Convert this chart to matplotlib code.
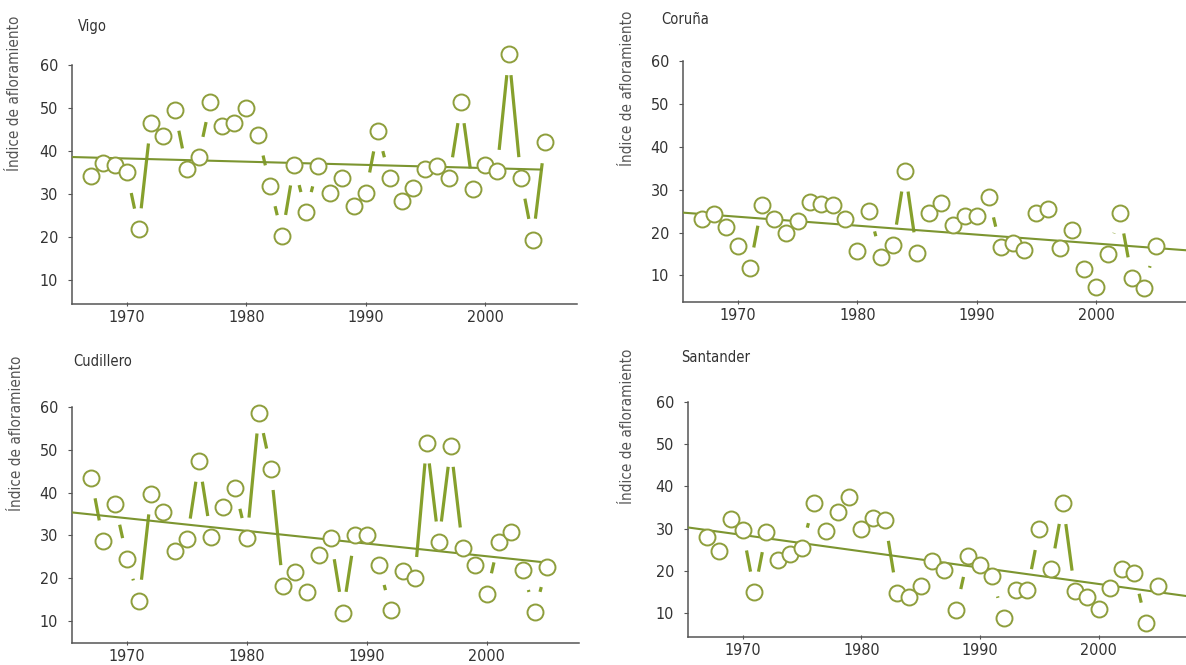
import numpy as np
import matplotlib
matplotlib.use("Agg")
import matplotlib.pyplot as plt
from matplotlib import font_manager

# annual upwelling index per station, 1967-2005
years = list(range(1967, 2006))

vigo = [34.2, 37.3, 36.8, 35.0, 21.8, 46.6, 43.5, 49.5, 35.8, 38.5,
        51.5, 45.8, 46.6, 49.9, 43.7, 31.9, 20.3, 36.8, 25.7, 36.5,
        30.2, 33.7, 27.3, 30.2, 44.7, 33.8, 28.3, 31.3, 35.8, 36.5,
        33.7, 51.3, 31.1, 36.8, 35.4, 62.5, 33.7, 19.4, 42.0]

coruna = [23.2, 24.4, 21.3, 16.9, 11.7, 26.4, 23.2, 20.0, 22.7, 27.1,
          26.6, 26.4, 23.2, 15.8, 25.0, 14.4, 17.0, 34.4, 15.2, 24.6,
          27.0, 21.7, 23.8, 23.9, 28.3, 16.6, 17.6, 16.0, 24.6, 25.6,
          16.4, 20.5, 11.6, 7.4, 15.1, 24.6, 9.4, 7.1, 16.9]

cudillero = [43.5, 28.7, 37.3, 24.6, 14.8, 39.8, 35.5, 26.4, 29.1, 47.4,
             29.7, 36.6, 41.0, 29.3, 58.7, 45.5, 18.2, 21.5, 16.8, 25.5,
             29.3, 12.0, 30.1, 30.1, 23.2, 12.5, 21.7, 20.1, 51.7, 28.4,
             50.9, 27.0, 23.0, 16.4, 28.5, 30.9, 22.0, 12.1, 22.7]

santander = [28.1, 24.8, 32.2, 29.7, 14.9, 29.3, 22.6, 23.9, 25.4, 36.1,
             29.5, 34.0, 37.6, 29.8, 32.4, 32.0, 14.7, 13.7, 16.3, 22.2,
             20.2, 10.8, 23.4, 21.4, 18.7, 8.8, 15.5, 15.5, 29.8, 20.4,
             36.0, 15.1, 13.7, 11.0, 15.9, 20.4, 19.4, 7.6, 16.5]

stations = ["Vigo", "Coruña", "Cudillero", "Santander"]
series = [vigo, coruna, cudillero, santander]
yticks = [10, 20, 30, 40, 50, 60]
xticks = [1970, 1980, 1990, 2000]

W, H = 1186, 665
fig = plt.figure(figsize=(W / 100, H / 100), dpi=100)

# panel boxes in pixels: left, right, top(=60), bottom, ymin, title pos, ylabel pos
panels = [
    dict(l=72, r=577, t=65, b=304, ymin=4.4, title=(78, 27), lab=(15, 93), tend=2004.7),
    dict(l=683, r=1188, t=61, b=302, ymin=3.8, title=(661, 20), lab=(628, 88), tend=2007.7),
    dict(l=72, r=579, t=407, b=643, ymin=4.9, title=(73, 362), lab=(17, 433), tend=2004.5),
    dict(l=688, r=1190, t=402, b=637, ymin=4.3, title=(681, 357), lab=(628, 426), tend=2007.7),
]

olive = "#86a02c"
ring = "#8e9e3c"
trendc = "#7c9530"
gap = 21  # px trimmed off each end of a year-to-year segment

fp = font_manager.FontProperties(family="DejaVu Sans", stretch="condensed")
txt = dict(family="DejaVu Sans", stretch="condensed")

for name, vals, p in zip(stations, series, panels):
    ax = fig.add_axes([p["l"] / W, 1 - p["b"] / H, (p["r"] - p["l"]) / W, (p["b"] - p["t"]) / H])
    ax.set_xlim(1965.4, 2007.7)
    ax.set_ylim(p["ymin"], 60)
    x = np.array(years, dtype=float)
    y = np.array(vals)

    # year-to-year segments, shortened so they stop short of the circles
    pts = ax.transData.transform(np.column_stack([x, y]))
    inv = ax.transData.inverted()
    for a, b in zip(pts[:-1], pts[1:]):
        d = b - a
        n = np.hypot(*d)
        if n <= 2 * gap:
            continue
        u = d / n
        seg = inv.transform(np.array([a + u * gap, b - u * gap]))
        ax.plot(seg[:, 0], seg[:, 1], color=olive, lw=2.3, zorder=1,
                solid_capstyle="butt")

    # linear trend
    k, c = np.polyfit(x, y, 1)
    tx = np.array([1965.4, p["tend"]])
    ax.plot(tx, c + k * tx, color=trendc, lw=1.5, zorder=3)

    ax.plot(x, y, "o", ms=11.5, mfc="white", mec=ring, mew=1.4, zorder=4, clip_on=False)

    ax.set_xticks(xticks)
    ax.set_yticks(yticks)
    for s in ["top", "right"]:
        ax.spines[s].set_visible(False)
    for s in ["left", "bottom"]:
        ax.spines[s].set_color("#555555")
        ax.spines[s].set_linewidth(1.1)
    ax.tick_params(axis="both", colors="#555555", length=3, width=0.8,
                   labelcolor="#333333", labelsize=11)
    ax.tick_params(axis="x", direction="inout", pad=3)
    ax.tick_params(axis="y", pad=7)
    for lbl in ax.get_xticklabels() + ax.get_yticklabels():
        lbl.set_fontproperties(fp)
        lbl.set_fontsize(11.5)

    fig.text(p["title"][0] / W, 1 - p["title"][1] / H, name, ha="left", va="center",
             fontsize=10.5, color="#333333", **txt)
    fig.text(p["lab"][0] / W, 1 - p["lab"][1] / H, "Índice de afloramiento", rotation=90,
             ha="center", va="center", fontsize=11, color="#555555", **txt)

fig.savefig("out.png", dpi=100)
